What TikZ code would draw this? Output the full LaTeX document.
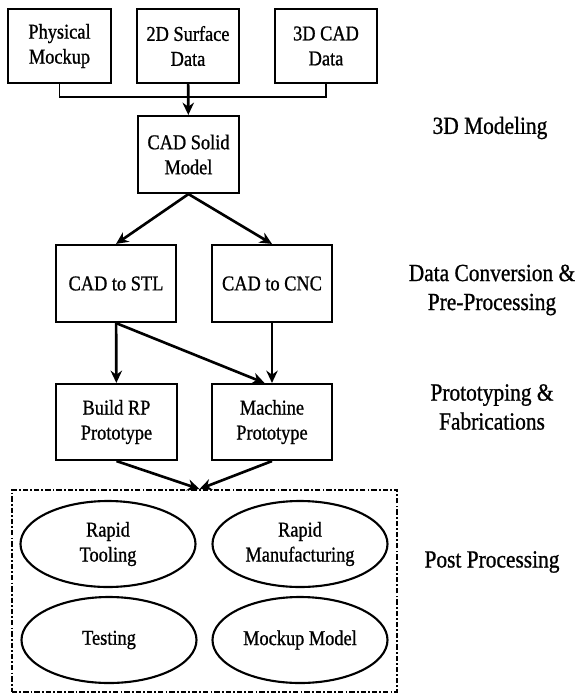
\documentclass[tikz,border=0pt]{standalone}
\usepackage{fontspec}
\setmainfont{Liberation Serif}[FakeStretch=0.87,FakeBold=0.9]
\usetikzlibrary{shapes.geometric,arrows.meta}

\begin{document}
\begin{tikzpicture}[
		box/.style={draw, line width=1.2pt, align=center, inner sep=0pt,
			font=\fontsize{12}{14.2}\selectfont},
		oval/.style={ellipse, draw, line width=1.2pt, align=center, inner sep=0pt,
			minimum width=3.5cm, minimum height=1.72cm, font=\fontsize{12}{14.2}\selectfont},
		lbl/.style={align=center, font=\fontsize{14}{16.5}\selectfont},
		link/.style={line width=1.5pt, -{Stealth[length=7pt,width=6.5pt]}}
	]
		\useasboundingbox (0,0) rectangle (11.52,-13.9);

		% sources
		\node[box, minimum width=2.06cm, minimum height=1.48cm] (phys) at (1.19,-0.92) {Physical\\Mockup};
		\node[box, minimum width=2.04cm, minimum height=1.48cm] (surf) at (3.76,-0.92) {2D Surface\\Data};
		\node[box, minimum width=2.04cm, minimum height=1.48cm] (cad3d) at (6.52,-0.92) {3D CAD\\Data};
		\coordinate (join) at (3.76,-1.94);

		\node[box, minimum width=2.02cm, minimum height=1.54cm] (solid) at (3.77,-3.09) {CAD Solid\\Model};

		\node[box, minimum width=2.4cm, minimum height=1.54cm] (stl) at (2.32,-5.67) {CAD to STL};
		\node[box, minimum width=2.4cm, minimum height=1.54cm] (cnc) at (5.44,-5.67) {CAD to CNC};

		\node[box, minimum width=2.42cm, minimum height=1.52cm] (build) at (2.33,-8.44) {Build RP\\Prototype};
		\node[box, minimum width=2.4cm, minimum height=1.52cm] (mach) at (5.44,-8.44) {Machine\\Prototype};

		% post processing group
		\node[draw, line width=1.1pt, dash pattern=on 3pt off 1.2pt on 1pt off 1.2pt,
			minimum width=7.7cm, minimum height=4.04cm] (post) at (4.09,-11.82) {};
		\node[oval] (tool) at (2.16,-10.88) {Rapid\\Tooling};
		\node[oval] (manu) at (6.0,-10.88) {Rapid\\Manufacturing};
		\node[oval] (test) at (2.18,-12.8) {Testing};
		\node[oval] (mock) at (6.0,-12.8) {Mockup Model};

		\draw[line width=0.9pt] (phys.south) |- (join) -| (cad3d.south);
		\draw[link] (surf)--(solid);
		\draw[link] (solid.south)--(stl.north);
		\draw[link] (solid.south)--(cnc.north);
		\draw[link] (stl)--(build);
		\draw[link] (stl.south)--([xshift=-0.15cm]mach.north);
		\draw[link] (cnc)--(mach);
		\draw[link] (build.south)--([xshift=-0.1cm]post.north);
		\draw[link] (mach.south)--([xshift=-0.1cm]post.north);

		\node[lbl] (l1) at (9.8,-2.56) {3D Modeling};
		\node[lbl] (l2) at (9.84,-5.8) {Data Conversion \&\\Pre-Processing};
		\node[lbl] (l3) at (9.84,-8.14) {Prototyping \&\\Fabrications};
		\node[lbl] (l4) at (9.84,-11.24) {Post Processing};
	\end{tikzpicture}
\end{document}
